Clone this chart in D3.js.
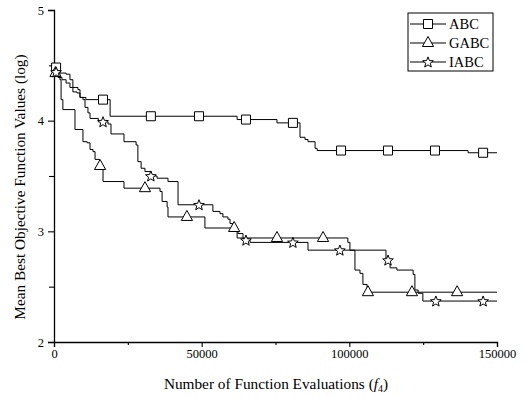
<!DOCTYPE html>
<html>
<head>
<meta charset="utf-8">
<script src="https://cdn.jsdelivr.net/npm/d3@7"></script>
<style>
    body { margin: 0; background: #fff; }
    text { font-family: "Liberation Serif", "Times New Roman", serif; fill: #000; }
</style>
</head>
<body>
<div id="chart"></div>
<script>
// step data (evaluations, log value)
var abcEvals = [0, 2000, 4100, 5400, 6400, 8100, 8800, 10800, 19000, 62000, 75500, 83300, 85000, 86000, 88400, 89100, 140200, 150000];
var abcVals  = [4.48, 4.43, 4.42, 4.37, 4.30, 4.28, 4.21, 4.19, 4.04, 4.01, 3.98, 3.85, 3.83, 3.81, 3.75, 3.73, 3.71, 3.71];

var gabcEvals = [0, 1400, 2000, 2400, 3000, 7100, 9800, 11200, 12200, 13200, 13900, 15400, 16600, 23700, 35900, 36600, 38300, 38600, 51100, 62000, 99500, 100200, 101900, 103600, 104600, 106000, 150000];
var gabcVals  = [4.43, 4.41, 4.37, 4.19, 4.10, 3.92, 3.81, 3.80, 3.74, 3.72, 3.65, 3.59, 3.45, 3.39, 3.36, 3.27, 3.22, 3.13, 3.03, 2.94, 2.90, 2.83, 2.65, 2.62, 2.52, 2.45, 2.45];

var iabcEvals = [0, 1400, 2700, 4100, 5400, 6400, 7800, 8800, 9800, 10500, 11500, 12200, 15000, 18300, 19300, 23700, 27800, 28400, 29500, 30800, 32800, 34900, 38600, 42000, 53800, 56200, 57200, 58900, 59600, 60600, 62300, 64000, 66400, 86000, 112400, 113800, 116100, 121600, 122200, 123300, 124900, 150000];
var iabcVals  = [4.44, 4.39, 4.37, 4.34, 4.30, 4.26, 4.25, 4.21, 4.19, 4.12, 4.07, 4.02, 3.99, 3.97, 3.88, 3.81, 3.78, 3.63, 3.57, 3.54, 3.50, 3.48, 3.45, 3.24, 3.18, 3.16, 3.13, 3.11, 3.07, 3.00, 2.98, 2.92, 2.90, 2.83, 2.74, 2.67, 2.65, 2.61, 2.47, 2.44, 2.37, 2.37];

// where the symbols sit along each curve
var abcMarks  = [700, 16600, 32800, 49100, 65000, 80900, 97200, 113100, 129000, 145300];
var gabcMarks = [500, 15600, 30800, 45000, 61000, 75500, 91100, 106300, 121200, 136500];
var iabcMarks = [700, 16600, 32800, 49100, 65000, 80900, 96800, 113100, 129300, 145300];

var seriesNames = ["ABC", "GABC", "IABC"];
var xMajor = [0, 50000, 100000, 150000];
var xMinor = [25000, 75000, 125000];
var yMajor = [2, 3, 4, 5];
var yMinor = [2.5, 3.5, 4.5];

var series = [
    {name: "ABC", evals: abcEvals, vals: abcVals, marks: abcMarks, shape: "square"},
    {name: "GABC", evals: gabcEvals, vals: gabcVals, marks: gabcMarks, shape: "triangle"},
    {name: "IABC", evals: iabcEvals, vals: iabcVals, marks: iabcMarks, shape: "star"}
];

var width = 526, height = 398;
var margin = {top: 10, right: 29, bottom: 56, left: 54};

var svg = d3.select("#chart").append("svg")
    .attr("width", width)
    .attr("height", height);

var x = d3.scaleLinear().domain([0, 150000]).range([margin.left, width - margin.right]);
var y = d3.scaleLinear().domain([2, 5]).range([height - margin.bottom, margin.top]);

// axes
svg.append("g")
    .attr("transform", "translate(0," + y(2) + ")")
    .call(d3.axisBottom(x).tickValues(xMajor).tickSize(5).tickPadding(2).tickFormat(d3.format("d")));
svg.append("g")
    .attr("transform", "translate(0," + y(2) + ")")
    .call(d3.axisBottom(x).tickValues(xMinor).tickSize(3).tickFormat(""))
    .select(".domain").remove();

svg.append("g")
    .attr("transform", "translate(" + x(0) + ",0)")
    .call(d3.axisLeft(y).tickValues(yMajor).tickSize(6).tickPadding(4).tickFormat(d3.format("d")));
svg.append("g")
    .attr("transform", "translate(" + x(0) + ",0)")
    .call(d3.axisLeft(y).tickValues(yMinor).tickSize(5).tickFormat(""))
    .select(".domain").remove();

svg.selectAll(".domain").attr("stroke", "#000").attr("stroke-width", 1.3);
svg.selectAll(".tick line").attr("stroke", "#000").attr("stroke-width", 1.1);
svg.selectAll(".tick text").attr("font-size", 12.5).style("font-family", "'Liberation Serif', 'Times New Roman', serif");

// axis titles
svg.append("text")
    .attr("transform", "translate(25,187) rotate(-90)")
    .attr("text-anchor", "middle")
    .attr("font-size", 15.3)
    .text("Mean Best Objective Function Values (log)");

var xt = svg.append("text")
    .attr("x", 276)
    .attr("y", 389)
    .attr("text-anchor", "middle")
    .attr("font-size", 15.3);
xt.append("tspan").text("Number of Function Evaluations (");
xt.append("tspan").attr("font-style", "italic").text("f");
xt.append("tspan").attr("font-size", 10).attr("dy", 3).text("4");
xt.append("tspan").attr("dy", -3).text(")");

// curves
var line = d3.line()
    .x(function(d) { return x(d[0]); })
    .y(function(d) { return y(d[1]); })
    .curve(d3.curveStepAfter);

function valueAt(s, e) {
    var i = d3.bisectRight(s.evals, e) - 1;
    return s.vals[Math.max(0, i)];
}

function symbolPath(shape) {
    if (shape === "square") return "M-4.5,-4.5H4.5V4.5H-4.5Z";
    if (shape === "triangle") return "M0,-6.5L5.6,3.5L-5.6,3.5Z";
    var p = [];
    for (var k = 0; k < 10; k++) {
        var r = k % 2 === 0 ? 5.6 : 2.4;
        var a = -Math.PI / 2 + k * Math.PI / 5;
        p.push([r * Math.cos(a), r * Math.sin(a) + 0.5]);
    }
    return "M" + p.map(function(q) { return q[0].toFixed(2) + "," + q[1].toFixed(2); }).join("L") + "Z";
}

series.forEach(function(s) {
    var pts = s.evals.map(function(e, i) { return [e, s.vals[i]]; });
    svg.append("path")
        .datum(pts)
        .attr("fill", "none")
        .attr("stroke", "#000")
        .attr("stroke-width", 1)
        .attr("d", line);
});

series.forEach(function(s) {
    svg.append("g").selectAll("path")
        .data(s.marks)
        .enter().append("path")
        .attr("transform", function(e) { return "translate(" + x(e) + "," + y(valueAt(s, e)) + ")"; })
        .attr("d", symbolPath(s.shape))
        .attr("fill", "#fff")
        .attr("stroke", "#000")
        .attr("stroke-width", 1);
});

// legend
var legend = svg.append("g").attr("transform", "translate(408,13)");
legend.append("rect")
    .attr("width", 85)
    .attr("height", 58)
    .attr("fill", "#fff")
    .attr("stroke", "#000")
    .attr("stroke-width", 1);

series.forEach(function(s, i) {
    var ly = 11 + i * 19;
    legend.append("line")
        .attr("x1", 2).attr("x2", 38)
        .attr("y1", ly).attr("y2", ly)
        .attr("stroke", "#000");
    legend.append("path")
        .attr("transform", "translate(20," + ly + ")")
        .attr("d", symbolPath(s.shape))
        .attr("fill", "#fff")
        .attr("stroke", "#000");
    legend.append("text")
        .attr("x", 41)
        .attr("y", ly)
        .attr("dy", "0.35em")
        .attr("font-size", 14.5)
        .text(seriesNames[i]);
});
</script>
</body>
</html>
